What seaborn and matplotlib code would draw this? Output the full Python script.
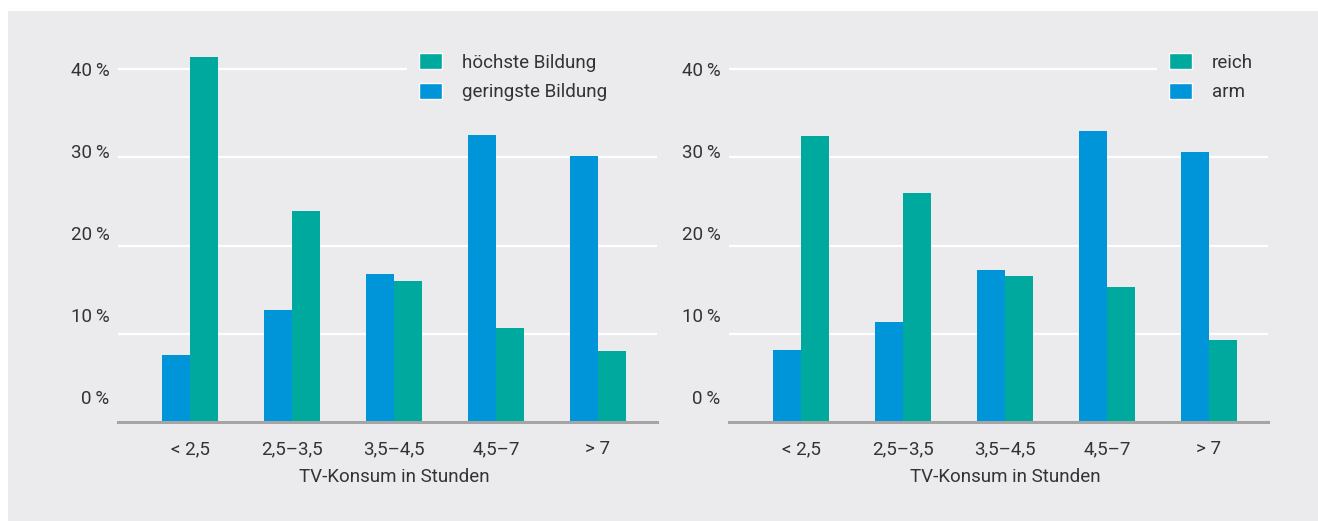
import pandas as pd
import matplotlib.pyplot as plt
import seaborn as sns
from matplotlib.patches import Patch, Rectangle

# TV-Konsum categories (hours)
categories = ["< 2,5", "2,5–3,5", "3,5–4,5", "4,5–7", "> 7"]

# left panel: education
bildung_hoch = [41.4, 23.9, 16.0, 10.7, 8.0]
bildung_gering = [7.6, 12.7, 16.8, 32.5, 30.2]

# right panel: income
reich = [32.4, 26.0, 16.6, 15.3, 9.3]
arm = [8.2, 11.3, 17.2, 33.0, 30.6]

ytick_labels = ["0\u2009%", "10\u2009%", "20\u2009%", "30\u2009%", "40\u2009%"]
xlabel = "TV-Konsum in Stunden"

BG = "#ebebed"
BLUE = "#0095d9"
GREEN = "#00a99d"
TEXT = "#333333"
FS = 13.5

sns.set_theme(style="white")
plt.rcParams['font.family'] = ['Roboto', 'DejaVu Sans']
plt.rcParams['text.color'] = TEXT
plt.rcParams['axes.labelcolor'] = TEXT
plt.rcParams['xtick.color'] = TEXT
plt.rcParams['ytick.color'] = TEXT


def make_df(high, low, high_name, low_name):
    rows = []
    for cat, h, l in zip(categories, high, low):
        rows.append({'Kategorie': cat, 'Gruppe': low_name, 'Anteil': l})
        rows.append({'Kategorie': cat, 'Gruppe': high_name, 'Anteil': h})
    return pd.DataFrame(rows)


def draw_panel(ax, df, high_name, low_name, legend_x):
    ax.set_facecolor(BG)
    sns.barplot(data=df, x='Kategorie', y='Anteil', hue='Gruppe',
                order=categories, hue_order=[low_name, high_name],
                palette={low_name: BLUE, high_name: GREEN},
                width=0.55, gap=0, saturation=1, errorbar=None,
                linewidth=0, ax=ax, legend=False)
    ax.set_axisbelow(True)
    ax.set_xlim(-0.706, 4.578)
    ax.set_ylim(0, 45)

    # labels sit on their own spacing, gridlines at every 10 %
    ax.yaxis.remove_overlapping_locs = False
    ax.set_yticks([2.8, 12.1, 21.4, 30.7, 40.0])
    ax.set_yticklabels(ytick_labels, fontsize=FS)
    ax.set_yticks([10, 20, 30, 40], minor=True)
    ax.grid(which='minor', axis='y', color='white', linewidth=1.6)
    ax.grid(which='major', visible=False)
    ax.tick_params(axis='y', which='both', length=0, pad=6)
    ax.tick_params(axis='x', length=0, pad=13, labelsize=FS)

    ax.set_xlabel(xlabel, fontsize=FS)
    ax.xaxis.set_label_coords(0.512, -0.115)
    ax.set_ylabel("")

    for s in ['top', 'right', 'left']:
        ax.spines[s].set_visible(False)
    ax.spines['bottom'].set_color('#a5a5a5')
    ax.spines['bottom'].set_linewidth(2.2)

    # legend box runs to the right edge so it hides the 40 % gridline there
    handles = [Patch(facecolor=GREEN, label=high_name),
               Patch(facecolor=BLUE, label=low_name)]
    leg = ax.legend(handles=handles, loc='upper left', mode='expand',
                    bbox_to_anchor=(legend_x, 0, 1.01 - legend_x, 0.96),
                    fontsize=FS, frameon=True, facecolor=BG,
                    edgecolor='none', framealpha=1, fancybox=False,
                    borderpad=0.65, borderaxespad=0, handlelength=1.22,
                    handleheight=0.95, handletextpad=1.05, labelspacing=0.6)
    leg.get_frame().set_linewidth(0)


fig = plt.figure(figsize=(13.18, 5.21), dpi=100)
bg_rect = Rectangle((8 / 1318, 0), 1, 510 / 521, transform=fig.transFigure,
                    facecolor=BG, edgecolor='none', zorder=-10)
fig.add_artist(bg_rect)

ax1 = fig.add_axes([118 / 1318, 99 / 521, 539 / 1318, 397 / 521])
ax2 = fig.add_axes([729 / 1318, 99 / 521, 539 / 1318, 397 / 521])

draw_panel(ax1, make_df(bildung_hoch, bildung_gering,
                        "höchste Bildung", "geringste Bildung"),
           "höchste Bildung", "geringste Bildung", 0.536)
draw_panel(ax2, make_df(reich, arm, "reich", "arm"),
           "reich", "arm", 0.794)

fig.savefig("out.png", dpi=100, facecolor='white')
